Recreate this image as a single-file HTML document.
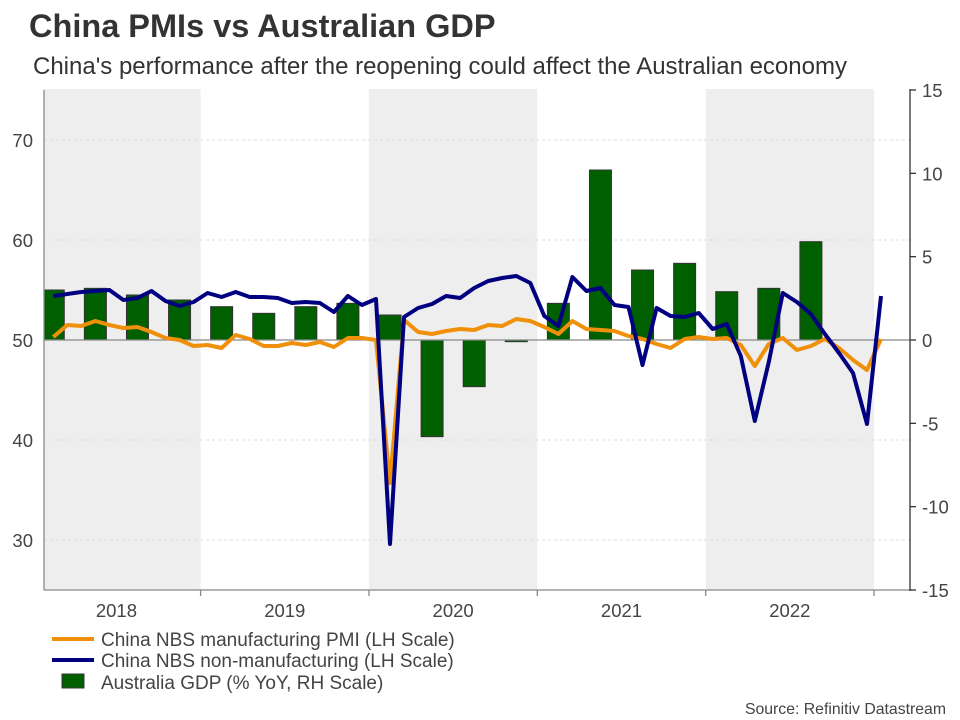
<!DOCTYPE html>
<html><head><meta charset="utf-8"><style>
body{margin:0;background:#fff;}
svg{display:block;font-family:"Liberation Sans",Arial,sans-serif;}
</style></head><body>
<svg width="960" height="720" viewBox="0 0 960 720">
<defs><clipPath id="plotclip"><rect x="44" y="89" width="866" height="501"/></clipPath></defs>
<text x="29" y="37" font-size="32.5" font-weight="bold" fill="#333">China PMIs vs Australian GDP</text>
<text x="33" y="74" font-size="24" fill="#333">China's performance after the reopening could affect the Australian economy</text>
<g id="bands"></g>
<g id="grid"></g>
<g id="bars" clip-path="url(#plotclip)"></g>
<line x1="44" y1="340" x2="910" y2="340" stroke="#888" stroke-width="1.3"/>
<g id="lines"></g>
<line x1="44" y1="90" x2="44" y2="590" stroke="#888" stroke-width="1.3"/>
<line x1="44" y1="590" x2="910" y2="590" stroke="#888" stroke-width="1.3"/>
<line x1="910" y1="89" x2="910" y2="591" stroke="#333" stroke-width="1.3"/>
<g id="axes"></g>
<g>
<line x1="52" y1="639" x2="94" y2="639" stroke="#f0900a" stroke-width="4"/>
<text x="101" y="646" font-size="19" fill="#444">China NBS manufacturing PMI (LH Scale)</text>
<line x1="52" y1="660" x2="94" y2="660" stroke="#000080" stroke-width="4"/>
<text x="101" y="667" font-size="19" fill="#444">China NBS non-manufacturing (LH Scale)</text>
<rect x="62" y="674" width="22" height="14" fill="#006000" stroke="#333" stroke-width="1"/>
<text x="101" y="689" font-size="19" fill="#444">Australia GDP (% YoY, RH Scale)</text>
</g>
<text x="946" y="714" font-size="15.8" fill="#444" text-anchor="end">Source: Refinitiv Datastream</text>
</svg>
<script>
const years = ['2018','2019','2020','2021','2022'];
const leftTicks = [30,40,50,60,70];
const rightTicks = [-15,-10,-5,0,5,10,15];
// monthly Feb 2018 .. Jan 2023
const pmiManufacturing = [50.3,51.5,51.4,51.9,51.5,51.2,51.3,50.8,50.2,50.0,49.4,
 49.5,49.2,50.5,50.1,49.4,49.4,49.7,49.5,49.8,49.3,50.2,50.2,
 50.0,35.7,52.0,50.8,50.6,50.9,51.1,51.0,51.5,51.4,52.1,51.9,
 51.3,50.6,51.9,51.1,51.0,50.9,50.4,50.1,49.6,49.2,50.1,50.3,
 50.1,50.2,49.5,47.4,49.6,50.2,49.0,49.4,50.1,49.2,48.0,47.0,50.1];
const pmiNonManufacturing = [54.4,54.6,54.8,54.9,55.0,54.0,54.2,54.9,53.9,53.4,53.8,
 54.7,54.3,54.8,54.3,54.3,54.2,53.7,53.8,53.7,52.8,54.4,53.5,
 54.1,29.6,52.3,53.2,53.6,54.4,54.2,55.2,55.9,56.2,56.4,55.7,
 52.4,51.4,56.3,54.9,55.2,53.5,53.3,47.5,53.2,52.4,52.3,52.7,
 51.1,51.6,48.4,41.9,47.8,54.7,53.8,52.6,50.6,48.7,46.7,41.6,54.4];
const quarters = ['Q1 2018','Q2 2018','Q3 2018','Q4 2018','Q1 2019','Q2 2019','Q3 2019','Q4 2019','Q1 2020','Q2 2020','Q3 2020','Q4 2020','Q1 2021','Q2 2021','Q3 2021','Q4 2021','Q1 2022','Q2 2022','Q3 2022'];
const gdpYoY = [3.0,3.1,2.7,2.4,2.0,1.6,2.0,2.2,1.5,-5.8,-2.8,-0.1,2.2,10.2,4.2,4.6,2.9,3.1,5.9];

const NS='http://www.w3.org/2000/svg';
function mk(tag,attrs,parent,txt){const e=document.createElementNS(NS,tag);for(const k in attrs)e.setAttribute(k,attrs[k]);if(txt!==undefined)e.textContent=txt;document.getElementById(parent).appendChild(e);return e;}
const xM = i => 390 + (i-25)*14.03;   // month index from Jan 2018
const yL = v => 340 - (v-50)*10;
const yR = v => 340 - v*(250/15);
const yearStart = k => xM(k*12) - 7.015;

years.forEach((y,k)=>{
  const x0 = Math.max(44, yearStart(k)), x1 = yearStart(k+1);
  if(k%2===0){
    const r=mk('rect',{x:x0,y:89,width:x1-x0,height:501,fill:'#eeeeee'},'bands');
    
    
  }
  const t=mk('text',{x:(yearStart(k)+x1)/2,y:617,'font-size':18.5,fill:'#444','text-anchor':'middle'},'axes',y);
  
  
  const tk=mk('line',{x1:x1,y1:590,x2:x1,y2:596,stroke:'#888','stroke-width':1.3},'axes');
  
  
});
leftTicks.forEach(v=>{
  const g=mk('line',{x1:44,y1:yL(v),x2:910,y2:yL(v),stroke:'#ddd','stroke-dasharray':'3,3','stroke-width':1},'grid');
  
  
  const t=mk('text',{x:33,y:yL(v)+7,'font-size':18.5,fill:'#444','text-anchor':'end'},'axes',v);
  
  
});
rightTicks.forEach(v=>{
  const tk=mk('line',{x1:910,y1:yR(v),x2:916,y2:yR(v),stroke:'#333','stroke-width':1.3},'axes');
  
  
  const t=mk('text',{x:922,y:yR(v)+7,'font-size':18.5,fill:'#444'},'axes',v);
  
  
});
gdpYoY.forEach((v,q)=>{
  const cx = xM(q*3+1), y0=yR(0), y1=yR(v);
  const h=Math.max(Math.abs(y1-y0),1.5);
  const b=mk('rect',{x:cx-11,y:Math.min(y0,y1),width:22,height:h,fill:'#006000',stroke:'#333','stroke-width':1},'bars');
  
  
});
function line(arr,color,name){
  const pts=arr.map((v,i)=>xM(i+1).toFixed(1)+','+yL(v).toFixed(1)).join(' ');
  const p=mk('polyline',{points:pts,fill:'none',stroke:color,'stroke-width':4,'stroke-linejoin':'round'},'lines');
  
  
}
line(pmiManufacturing,'#f0900a','pmi-manufacturing-line');
line(pmiNonManufacturing,'#000080','pmi-non-manufacturing-line');
</script>
</body></html>
